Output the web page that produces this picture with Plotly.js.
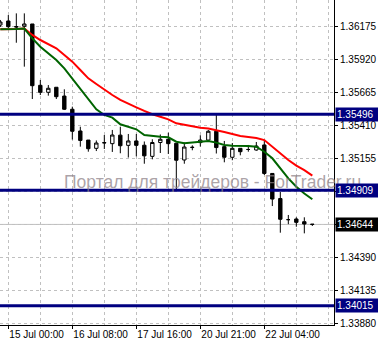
<!DOCTYPE html>
<html>
<head>
<meta charset="utf-8">
<script src="https://cdn.plot.ly/plotly-3.0.1.min.js"></script>
<style>
  html, body { margin: 0; padding: 0; background: #ffffff; }
  #chart { width: 378px; height: 344px; }
</style>
</head>
<body>
<div id="chart"></div>
<script>
// H4 candles (first one is partially off-screen on the left)
const opens  = [1.36185,1.36216,1.36173,1.36175,1.36193,1.35719,1.35665,1.35704,1.35636,1.35534,1.35366,1.35296,1.35232,1.35273,1.35268,1.35334,1.35255,1.35289,1.35256,1.35170,1.35277,1.35302,1.35271,1.35142,1.35238,1.35276,1.35296,1.35364,1.35245,1.35163,1.35232,1.35223,1.35219,1.35258,1.35038,1.34844,1.34681,1.34686,1.34665,1.34646];
const highs  = [1.36224,1.36262,1.36275,1.36275,1.36193,1.35760,1.35721,1.35704,1.35688,1.35554,1.35399,1.35296,1.35293,1.35335,1.35374,1.35399,1.35343,1.35343,1.35285,1.35302,1.35339,1.35353,1.35271,1.35277,1.35255,1.35333,1.35374,1.35490,1.35289,1.35273,1.35232,1.35258,1.35281,1.35296,1.35041,1.34895,1.34717,1.34699,1.34699,1.34646];
const lows   = [1.36170,1.36160,1.36048,1.35863,1.35613,1.35644,1.35639,1.35613,1.35528,1.35300,1.35245,1.35206,1.35211,1.35227,1.35204,1.35194,1.35161,1.35170,1.35113,1.35147,1.35196,1.35188,1.34910,1.35113,1.35217,1.35246,1.35289,1.35192,1.35124,1.35140,1.35178,1.35206,1.35214,1.35026,1.34786,1.34580,1.34646,1.34626,1.34575,1.34632];
const closes = [1.36208,1.36172,1.36170,1.36193,1.35716,1.35665,1.35696,1.35631,1.35534,1.35364,1.35293,1.35229,1.35273,1.35276,1.35335,1.35252,1.35289,1.35255,1.35174,1.35277,1.35302,1.35268,1.35140,1.35242,1.35240,1.35296,1.35364,1.35238,1.35163,1.35232,1.35206,1.35223,1.35250,1.35038,1.34840,1.34684,1.34681,1.34660,1.34647,1.34644];

// moving averages
const maRed   = [1.36152,1.36152,1.36154,1.36158,1.36108,1.36069,1.36038,1.36005,1.35953,1.35902,1.35837,1.35773,1.35729,1.35683,1.35644,1.35606,1.35580,1.35549,1.35521,1.35495,1.35476,1.35456,1.35425,1.35412,1.35399,1.35391,1.35386,1.35374,1.35358,1.35343,1.35327,1.35320,1.35312,1.35296,1.35245,1.35194,1.35142,1.35099,1.35064,1.35021];
const maGreen = [1.36152,1.36152,1.36154,1.36158,1.36082,1.36017,1.35966,1.35915,1.35850,1.35773,1.35696,1.35619,1.35534,1.35490,1.35469,1.35418,1.35399,1.35379,1.35335,1.35327,1.35322,1.35317,1.35283,1.35271,1.35276,1.35283,1.35289,1.35276,1.35258,1.35252,1.35252,1.35250,1.35245,1.35206,1.35155,1.35078,1.35000,1.34935,1.34883,1.34839];

// horizontal levels and current price
const levels = [1.35496, 1.34909, 1.34015];
const currentPrice = 1.34644;

// axis ticks
const xTickIdx  = [0, 8, 16, 24, 32];
const xTickText = ['15 Jul 00:00', '16 Jul 08:00', '17 Jul 16:00', '20 Jul 21:00', '22 Jul 04:00'];
const yTickVals = [1.33880, 1.34135, 1.34390, 1.34645, 1.34900, 1.35155, 1.35410, 1.35665, 1.35920, 1.36175];
const yTickHidden = [1.34645, 1.34900];

const watermark = 'Портал для трейдеров - ForTrader.ru';

const xs = opens.map((_, i) => i - 1);
const FONT = 'Liberation Sans, Arial, sans-serif';
const GRID = '#c0c0c0';

const traces = [
  {
    type: 'candlestick', x: xs, open: opens, high: highs, low: lows, close: closes,
    increasing: { line: { color: '#000000', width: 1 }, fillcolor: '#ffffff' },
    decreasing: { line: { color: '#000000', width: 1 }, fillcolor: '#000000' },
    whiskerwidth: 0, hoverinfo: 'skip', showlegend: false
  },
  { type: 'scatter', mode: 'lines', x: xs, y: maRed, line: { color: '#ff0000', width: 2 }, hoverinfo: 'skip', showlegend: false },
  { type: 'scatter', mode: 'lines', x: xs, y: maGreen, line: { color: '#006400', width: 2 }, hoverinfo: 'skip', showlegend: false }
];

const shapes = levels.map(v => ({
  type: 'line', xref: 'paper', x0: 0, x1: 1, yref: 'y', y0: v, y1: v,
  line: { color: '#000080', width: 3 }, layer: 'above'
}));
shapes.unshift({
  type: 'line', xref: 'paper', x0: 0, x1: 1, yref: 'y', y0: currentPrice, y1: currentPrice,
  line: { color: '#c0c0c0', width: 1 }, layer: 'below'
});

const annotations = [];
annotations.push({
  xref: 'x', x: 25.46, yref: 'y', y: 1.34975, text: watermark, showarrow: false,
  font: { family: FONT, size: 17.5, color: 'rgba(140,128,134,0.72)' }
});
levels.forEach(v => annotations.push({
  xref: 'paper', x: 1, xanchor: 'left', xshift: 1, yref: 'y', y: v, yanchor: 'middle',
  text: v.toFixed(5), showarrow: false, bgcolor: '#000080', borderpad: 1,
  width: 40, align: 'left', font: { family: FONT, size: 10, color: '#ffffff' }
}));
annotations.push({
  xref: 'paper', x: 1, xanchor: 'left', xshift: 1, yref: 'y', y: currentPrice, yanchor: 'middle',
  text: currentPrice.toFixed(5), showarrow: false, bgcolor: '#000000', borderpad: 1,
  width: 40, align: 'left', font: { family: FONT, size: 10, color: '#ffffff' }
});

const layout = {
  width: 378, height: 344,
  margin: { l: 0, r: 44, t: 0, b: 19, pad: 0 },
  paper_bgcolor: '#ffffff', plot_bgcolor: '#ffffff',
  showlegend: false, boxgap: 0.4,
  font: { family: FONT, size: 10, color: '#000000' },
  xaxis: {
    range: [-1.04, 40.71], rangeslider: { visible: false },
    tickmode: 'array', tickvals: xTickIdx, ticktext: xTickText,
    ticks: 'outside', ticklen: 3, tickcolor: '#000000',
    ticklabelposition: 'outside right',
    showgrid: true, gridcolor: GRID, griddash: '3px,3px', gridwidth: 1,
    minor: { tickmode: 'linear', tick0: 0, dtick: 4, showgrid: true, gridcolor: GRID, griddash: '3px,3px', ticks: '' },
    showline: true, linecolor: '#000000', linewidth: 1,
    zeroline: false, fixedrange: true,
    tickfont: { family: FONT, size: 10, color: '#000000' }
  },
  yaxis: {
    side: 'right', range: [1.338668, 1.363782],
    tickmode: 'array', tickvals: yTickVals,
    ticktext: yTickVals.map(v => yTickHidden.includes(v) ? '' : v.toFixed(5)),
    ticks: 'outside', ticklen: 3, tickcolor: '#000000',
    showgrid: true, gridcolor: GRID, griddash: '3px,3px', gridwidth: 1,
    showline: true, linecolor: '#000000', linewidth: 1,
    zeroline: false, fixedrange: true,
    tickfont: { family: FONT, size: 10, color: '#000000' }
  },
  shapes: shapes,
  annotations: annotations
};

Plotly.newPlot('chart', traces, layout, { displayModeBar: false, staticPlot: true });
</script>
</body>
</html>
